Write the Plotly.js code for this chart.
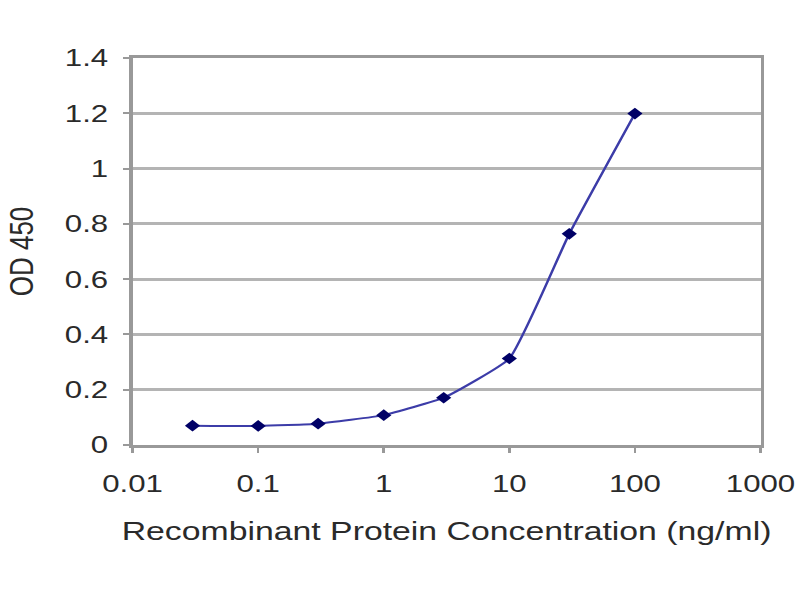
<!DOCTYPE html>
<html>
<head>
<meta charset="utf-8">
<script src="https://cdn.plot.ly/plotly-3.0.1.min.js"></script>
<style>
	html, body { margin: 0; padding: 0; background: #fff; overflow: hidden; }
	/* the reference picture is stretched sideways, so the chart is too */
	#chart { width: 615px; height: 600px; transform: scaleX(1.3); transform-origin: 0 0; }
</style>
</head>
<body>
<div id="chart"></div>
<script>
//концентрация, нг/мл
var conc = [0.03, 0.1, 0.3, 1, 3, 10, 30, 100];
//оптическая плотность
var od = [0.07, 0.069, 0.077, 0.108, 0.171, 0.313, 0.764, 1.199];

var xTicks = [0.01, 0.1, 1, 10, 100, 1000];
var xTickText = ['0.01', '0.1', '1', '10', '100', '1000'];
var yTicks = [0, 0.2, 0.4, 0.6, 0.8, 1, 1.2, 1.4];
var yTickText = ['0', '0.2', '0.4', '0.6', '0.8', '1', '1.2', '1.4'];

var curve = {
	x: conc,
	y: od,
	type: 'scatter',
	mode: 'lines+markers',
	line: {
		color: '#3c3ca8',
		width: 2,
		shape: 'spline',
		smoothing: 0.4
	},
	marker: {
		symbol: 'diamond',
		size: 9,
		color: '#000066'
	},
	hoverinfo: 'skip'
};

var layout = {
	width: 615,
	height: 600,
	margin: {l: 102, r: 30, t: 58, b: 155},
	paper_bgcolor: '#ffffff',
	plot_bgcolor: '#ffffff',
	showlegend: false,
	font: {family: 'Liberation Sans, Arial, sans-serif', color: '#2a2a2a'},
	xaxis: {
		type: 'log',
		range: [-2, 3],
		tickvals: xTicks,
		ticktext: xTickText,
		tickfont: {size: 24, color: '#2a2a2a'},
		ticks: 'outside',
		ticklen: 5,
		tickwidth: 2,
		tickcolor: '#999999',
		ticklabelstandoff: 10,
		showgrid: false,
		zeroline: false,
		showline: true,
		linecolor: '#999999',
		linewidth: 3,
		mirror: true,
		automargin: false,
		title: {
			text: 'Recombinant Protein Concentration (ng/ml)',
			font: {size: 26, color: '#2a2a2a'},
			standoff: 27
		}
	},
	yaxis: {
		range: [0, 1.4],
		tickvals: yTicks,
		ticktext: yTickText,
		tickfont: {size: 24, color: '#2a2a2a'},
		ticks: 'outside',
		ticklen: 4,
		tickwidth: 2,
		tickcolor: '#999999',
		ticklabelstandoff: 7,
		showgrid: true,
		gridcolor: '#b4b4b4',
		gridwidth: 3,
		zeroline: false,
		showline: true,
		linecolor: '#999999',
		linewidth: 3,
		mirror: true,
		automargin: false,
		title: {
			text: 'OD 450',
			font: {size: 26, color: '#2a2a2a'},
			standoff: 17
		}
	}
};

Plotly.newPlot('chart', [curve], layout, {displayModeBar: false, staticPlot: true});
</script>
</body>
</html>
